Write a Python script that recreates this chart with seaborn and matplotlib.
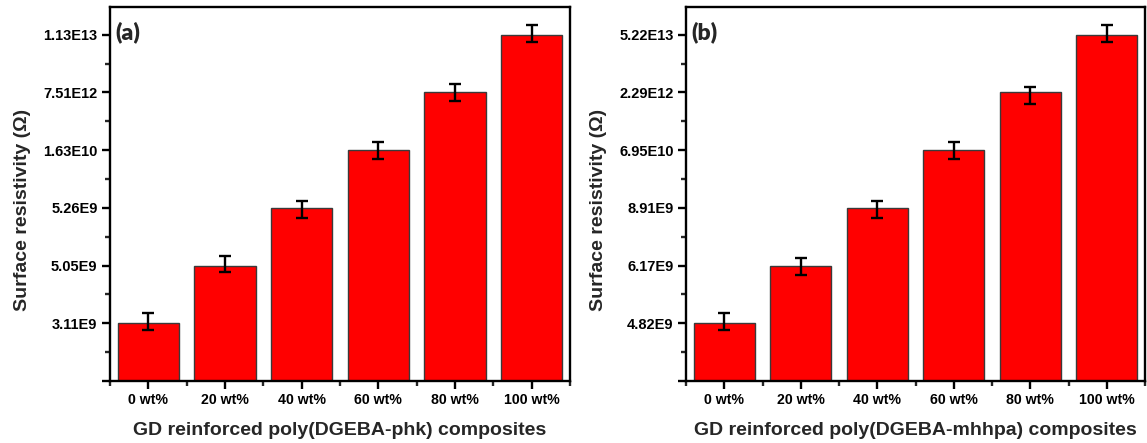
import numpy as np
import matplotlib
matplotlib.use("Agg")
import matplotlib.pyplot as plt
from matplotlib.ticker import FixedLocator, FixedFormatter
import seaborn as sns

# Filler loadings (shared x categories)
categories = ["0 wt%", "20 wt%", "40 wt%", "60 wt%", "80 wt%", "100 wt%"]

# Surface resistivity (ohm) of the two composite series
resistivity_phk = [3.11e9, 5.05e9, 5.26e9, 1.63e10, 7.51e12, 1.13e13]
resistivity_mhhpa = [4.82e9, 6.17e9, 8.91e9, 6.95e10, 2.29e12, 5.22e13]

# Error bar extents on the rank scale (lower, upper)
err_low_phk = [0.11, 0.115, 0.17, 0.145, 0.14, 0.12]
err_up_phk = [0.18, 0.17, 0.12, 0.14, 0.14, 0.17]
err_low_mhhpa = [0.11, 0.16, 0.17, 0.145, 0.195, 0.12]
err_up_mhhpa = [0.18, 0.13, 0.12, 0.14, 0.10, 0.17]

xlabels = ["GD reinforced poly(DGEBA-phk) composites",
           "GD reinforced poly(DGEBA-mhhpa) composites"]
panel_tags = ["(a)", "(b)"]

sns.set_style("ticks")
plt.rcParams["font.family"] = ["Liberation Sans", "DejaVu Sans"]
plt.rcParams["font.weight"] = "bold"


def sci_label(v):
    e = int(np.floor(np.log10(v)))
    m = v / 10 ** e
    return f"{m:.2f}E{e}"


def draw_panel(ax, values, lo, up, xlabel, tag):
    # each resistivity level sits on its own evenly spaced tick
    levels = np.argsort(np.argsort(values)) + 1
    sns.barplot(x=categories, y=levels, ax=ax, color="#ff0000",
                saturation=1, width=0.8, edgecolor="#3a3a3a", linewidth=1.0,
                errorbar=None)
    ax.errorbar(np.arange(len(categories)), levels, yerr=[lo, up], fmt="none",
                ecolor="black", elinewidth=1.7, capsize=4.2, capthick=1.7,
                zorder=5)
    ax.set_xlim(-0.5, len(categories) - 0.5)
    ax.set_ylim(0, 6.48)

    sorted_vals = sorted(values)
    ax.yaxis.set_major_locator(FixedLocator([0] + list(range(1, len(values) + 1))))
    ax.yaxis.set_major_formatter(FixedFormatter([""] + [sci_label(v) for v in sorted_vals]))
    ax.yaxis.set_minor_locator(FixedLocator(np.arange(0.5, 6.6, 1.0)))
    ax.xaxis.set_minor_locator(FixedLocator(np.arange(-0.5, 5.6, 1.0)))

    for s in ax.spines.values():
        s.set_visible(True)
        s.set_linewidth(1.7)
        s.set_color("black")
    ax.tick_params(axis="both", which="major", direction="out", length=6,
                   width=1.7, labelsize=10.5, pad=3, colors="black")
    ax.tick_params(axis="x", which="major", labelsize=10.2)
    ax.tick_params(axis="both", which="minor", direction="out", length=3.5,
                   width=1.7)
    for lbl in ax.get_xticklabels() + ax.get_yticklabels():
        lbl.set_fontweight("bold")

    ax.set_xlabel(xlabel, fontsize=14, fontweight="bold")
    ax.set_ylabel("Surface resistivity (\u03a9)", fontsize=14, fontweight="bold")
    ax.xaxis.set_label_coords(0.5, -0.11)
    ax.yaxis.set_label_coords(-0.172, 0.457)
    ax.text(0.012, 0.963, tag, transform=ax.transAxes, fontsize=16.5,
            fontweight="heavy", family=["Lato", "DejaVu Sans"], va="top", ha="left")


W, H = 1147, 443
fig = plt.figure(figsize=(W / 100, H / 100), dpi=100)
ax_a = fig.add_axes([110 / W, 1 - 381 / H, 460 / W, 374 / H])
ax_b = fig.add_axes([686 / W, 1 - 381 / H, 459 / W, 374 / H])

draw_panel(ax_a, resistivity_phk, err_low_phk, err_up_phk, xlabels[0], panel_tags[0])
draw_panel(ax_b, resistivity_mhhpa, err_low_mhhpa, err_up_mhhpa, xlabels[1], panel_tags[1])

fig.savefig("out.png", dpi=100)
